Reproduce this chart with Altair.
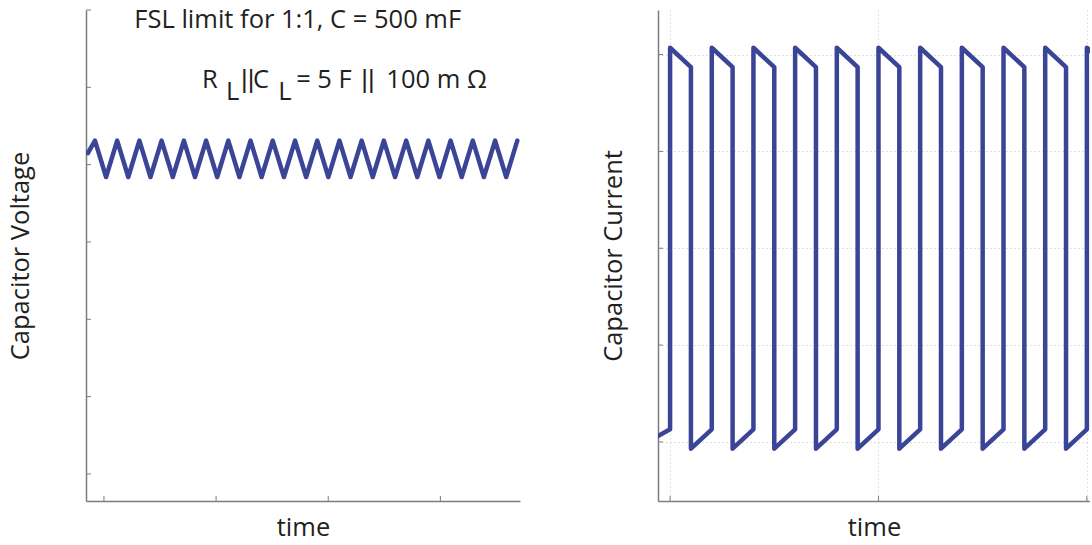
import altair as alt
import pandas as pd

# ---------------- data ----------------
# Left panel: capacitor voltage (triangular ripple)
v_time = [-0.143, -0.080, 0.019, 0.118, 0.217, 0.316, 0.415, 0.514, 0.614, 0.713,
          0.812, 0.911, 1.010, 1.109, 1.208, 1.307, 1.406, 1.505, 1.605, 1.704,
          1.803, 1.902, 2.001, 2.100, 2.199, 2.298, 2.397, 2.496, 2.596, 2.695,
          2.794, 2.893, 2.992, 3.091, 3.190, 3.289, 3.388, 3.488, 3.587, 3.686]
v_volt = [4.15, 4.31, 3.84, 4.31, 3.84, 4.31, 3.84, 4.31, 3.84, 4.31,
          3.84, 4.31, 3.84, 4.31, 3.84, 4.31, 3.84, 4.31, 3.84, 4.31,
          3.84, 4.31, 3.84, 4.31, 3.84, 4.31, 3.84, 4.31, 3.84, 4.31,
          3.84, 4.31, 3.84, 4.31, 3.84, 4.31, 3.84, 4.31, 3.84, 4.31]

# Right panel: capacitor current (square wave with droop)
i_time = [-0.058, 0.0, 0.0, 0.1, 0.1, 0.2, 0.2, 0.3, 0.3, 0.4, 0.4, 0.5, 0.5,
          0.6, 0.6, 0.7, 0.7, 0.8, 0.8, 0.9, 0.9, 1.0, 1.0, 1.1, 1.1, 1.2, 1.2,
          1.3, 1.3, 1.4, 1.4, 1.5, 1.5, 1.6, 1.6, 1.7, 1.7, 1.8, 1.8, 1.9, 1.9,
          2.0, 2.0, 2.1]
i_curr = [-1.94, -1.87, 2.07, 1.87, -2.07, -1.87, 2.07, 1.87, -2.07,
          -1.87, 2.07, 1.87, -2.07, -1.87, 2.07, 1.87, -2.07,
          -1.87, 2.07, 1.87, -2.07, -1.87, 2.07, 1.87, -2.07,
          -1.87, 2.07, 1.87, -2.07, -1.87, 2.07, 1.87, -2.07,
          -1.87, 2.07, 1.87, -2.07, -1.87, 2.07, 1.87, -2.07,
          -1.87, 2.07, 1.87]

v_xticks = [0, 1, 2, 3]
v_yticks = [0, 1, 2, 3, 4, 5, 6]
i_xticks = [0, 1, 2]
i_yticks = [-2, -1, 0, 1, 2]

# annotation text (left panel)
ann_center_text = ["FSL limit for 1:1, C = 500 mF"]
ann_center_x = [1.728]
ann_center_y = [5.77]
ann_left_text = ["R", "L", "C", "L", "= 5 F", "100 m Ω"]
ann_left_x = [0.875, 1.089, 1.33, 1.554, 1.714, 2.518]
ann_left_y = [4.99, 4.84, 4.99, 4.84, 4.99, 4.99]
ann_bar_text = ["||", "||"]
ann_bar_x = [1.223, 2.295]
ann_bar_y = [4.99, 4.99]

# ---------------- style ----------------
BLUE = "#3b4597"
AX = "#7d7d7d"
TXT = "#231f20"
FONT = "Open Sans"
FS = 25.5
W, H = 434, 491
RW = 432


def axis(title, pad, grid=False, values=None):
    kw = dict(title=title, labels=False, ticks=False, grid=grid,
              domainColor=AX, domainWidth=1.5, titlePadding=pad,
              titleFont=FONT, titleFontSize=FS, titleColor=TXT,
              titleFontWeight="normal")
    if grid:
        kw.update(gridColor="#c4c4c4", gridDash=[1, 3], gridWidth=1)
    if values is not None:
        kw["values"] = values
    return alt.Axis(**kw)


# ---------------- left panel ----------------
vx = alt.Scale(domain=[-0.16, 3.71], nice=False, zero=False)
vy = alt.Scale(domain=[-0.35, 6.0], nice=False, zero=False)
vxa = axis("time", 14)
vya = axis("Capacitor Voltage", 53)

vdf = pd.DataFrame({"t": v_time, "v": v_volt, "i": list(range(len(v_time)))})

vline = alt.Chart(vdf).mark_line(
    color=BLUE, strokeWidth=4.5, strokeJoin="round", strokeCap="round", clip=True
).encode(
    x=alt.X("t:Q", scale=vx, axis=vxa),
    y=alt.Y("v:Q", scale=vy, axis=vya),
    order="i:Q",
)

vyt = alt.Chart(pd.DataFrame({"v": v_yticks})).mark_rule(color=AX, strokeWidth=1).encode(
    y=alt.Y("v:Q", scale=vy, axis=vya), x=alt.value(0), x2=alt.value(5)
)
vxt = alt.Chart(pd.DataFrame({"t": v_xticks})).mark_rule(color=AX, strokeWidth=1).encode(
    x=alt.X("t:Q", scale=vx, axis=vxa), y=alt.value(H), y2=alt.value(H - 5)
)

tc = alt.Chart(pd.DataFrame({"t": ann_center_x, "v": ann_center_y, "s": ann_center_text})).mark_text(
    font=FONT, fontSize=FS, color=TXT, align="center", baseline="alphabetic"
).encode(x=alt.X("t:Q", scale=vx, axis=vxa), y=alt.Y("v:Q", scale=vy, axis=vya), text="s:N")

tl = alt.Chart(pd.DataFrame({"t": ann_left_x, "v": ann_left_y, "s": ann_left_text})).mark_text(
    font=FONT, fontSize=FS, color=TXT, align="left", baseline="alphabetic"
).encode(x=alt.X("t:Q", scale=vx, axis=vxa), y=alt.Y("v:Q", scale=vy, axis=vya), text="s:N")

tb = alt.Chart(pd.DataFrame({"t": ann_bar_x, "v": ann_bar_y, "s": ann_bar_text})).mark_text(
    font="Liberation Sans", fontSize=FS, color=TXT, align="left", baseline="alphabetic"
).encode(x=alt.X("t:Q", scale=vx, axis=vxa), y=alt.Y("v:Q", scale=vy, axis=vya), text="s:N")

left = alt.layer(vline, vyt, vxt, tc, tl, tb).properties(width=W, height=H)

# ---------------- right panel ----------------
ix = alt.Scale(domain=[-0.058, 2.015], nice=False, zero=False)
iy = alt.Scale(domain=[-2.61, 2.46], nice=False, zero=False)
ixa = axis("time", 14, grid=True, values=i_xticks)
iya = axis("Capacitor Current", 32, grid=True, values=i_yticks)

idf = pd.DataFrame({"t": i_time, "c": i_curr, "i": list(range(len(i_time)))})

iline = alt.Chart(idf).mark_line(
    color=BLUE, strokeWidth=4.5, strokeJoin="round", strokeCap="round", clip=True
).encode(
    x=alt.X("t:Q", scale=ix, axis=ixa),
    y=alt.Y("c:Q", scale=iy, axis=iya),
    order="i:Q",
)

iyt = alt.Chart(pd.DataFrame({"c": i_yticks})).mark_rule(color=AX, strokeWidth=1).encode(
    y=alt.Y("c:Q", scale=iy, axis=iya), x=alt.value(0), x2=alt.value(5)
)
ixt = alt.Chart(pd.DataFrame({"t": i_xticks})).mark_rule(color=AX, strokeWidth=1).encode(
    x=alt.X("t:Q", scale=ix, axis=ixa), y=alt.value(H), y2=alt.value(H - 5)
)

right = alt.layer(iline, iyt, ixt).properties(width=RW, height=H)

chart = alt.hconcat(left, right, spacing=81).properties(
    padding={"left": 8, "top": 7, "right": 0, "bottom": 0}
).configure(background="white").configure_view(stroke=None)

chart.save("out.html", embed_options={"renderer": "svg", "actions": False})
